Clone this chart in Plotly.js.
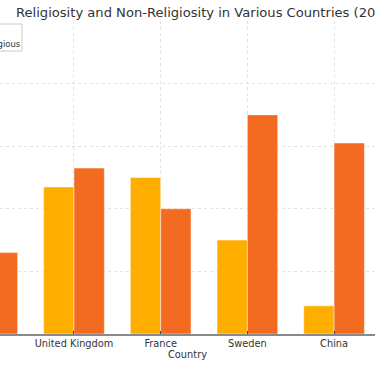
<!DOCTYPE html>
<html>
<head>
<meta charset="utf-8">
<script src="https://cdn.plot.ly/plotly-3.0.1.min.js"></script>
<style>html,body{margin:0;padding:0;background:#fff}#chart{width:375px;height:366px}</style>
</head>
<body>
<div id="chart"></div>
<script>
const countries = ["United States", "United Kingdom", "France", "Sweden", "China"];
const religious = [56, 47, 50, 30, 9];
const nonReligious = [26, 53, 40, 70, 61];
const seriesNames = ["Religious", "Non-Religious"];
const seriesColors = ["#FFAE00", "#F26B21"];
const titleText = "Religiosity and Non-Religiosity in Various Countries (2017)";

const W = 375, H = 366, MT = 21, MB = 32;
const plotH = H - MT - MB;
const px = v => v / W;                  // pixel x -> paper x
const py = v => (H - MB - v) / plotH;   // pixel y -> paper y

const barLine = {color: "rgba(255,255,255,0.45)", width: 1};
const traces = [
  {type: "bar", name: seriesNames[0], x: countries, y: religious,
   marker: {color: seriesColors[0], line: barLine}},
  {type: "bar", name: seriesNames[1], x: countries, y: nonReligious,
   marker: {color: seriesColors[1], line: barLine}}
];

// legend (upper-left, partly outside the visible window)
const legTextX = -40;
const rowY = [31, 44];
const shapes = [
  {type: "rect", xref: "paper", yref: "paper", x0: px(-95), x1: px(22), y0: py(51), y1: py(24),
   line: {color: "#cccccc", width: 1}, fillcolor: "rgba(255,255,255,0.85)", layer: "above"}
];
const annotations = [];
seriesNames.forEach((n, i) => {
  shapes.push({type: "rect", xref: "paper", yref: "paper",
    x0: px(legTextX - 22), x1: px(legTextX - 6), y0: py(rowY[i] + 3), y1: py(rowY[i] - 3),
    line: {width: 0}, fillcolor: seriesColors[i], layer: "above"});
  annotations.push({xref: "paper", yref: "paper", x: px(legTextX), y: py(rowY[i]),
    xanchor: "left", yanchor: "middle", showarrow: false, text: n,
    font: {family: "DejaVu Sans", size: 8.5, color: "#333"}});
});

const layout = {
  width: W, height: H,
  margin: {l: 0, r: 0, t: MT, b: MB, pad: 0, autoexpand: false},
  paper_bgcolor: "#fff", plot_bgcolor: "#fff",
  font: {family: "DejaVu Sans", color: "#333"},
  barmode: "group", bargap: 0.3, bargroupgap: 0,
  title: {text: titleText, font: {family: "DejaVu Sans", size: 13.1, color: "#333"},
          xref: "container", x: 16/375, xanchor: "left",
          yref: "container", y: 1 - 12/366, yanchor: "middle", automargin: false},
  xaxis: {type: "category", range: [0.1465, 4.472], automargin: false,
          showgrid: true, gridcolor: "#e2e2e2", griddash: "dot", gridwidth: 1,
          showline: true, linecolor: "#8a8a8a", linewidth: 1.5,
          ticks: "inside", ticklen: 3, tickcolor: "#444", tickangle: 0,
          tickfont: {size: 9.8, color: "#333"},
          title: {text: "Country", font: {size: 9.8, color: "#333"}, standoff: 3}},
  yaxis: {range: [0, 100], automargin: false, dtick: 20,
          showgrid: true, gridcolor: "#e2e2e2", griddash: "dot", gridwidth: 1,
          zeroline: false, showticklabels: false, ticks: ""},
  showlegend: false,
  shapes: shapes,
  annotations: annotations
};

Plotly.newPlot("chart", traces, layout, {staticPlot: true, displayModeBar: false});
</script>
</body>
</html>
